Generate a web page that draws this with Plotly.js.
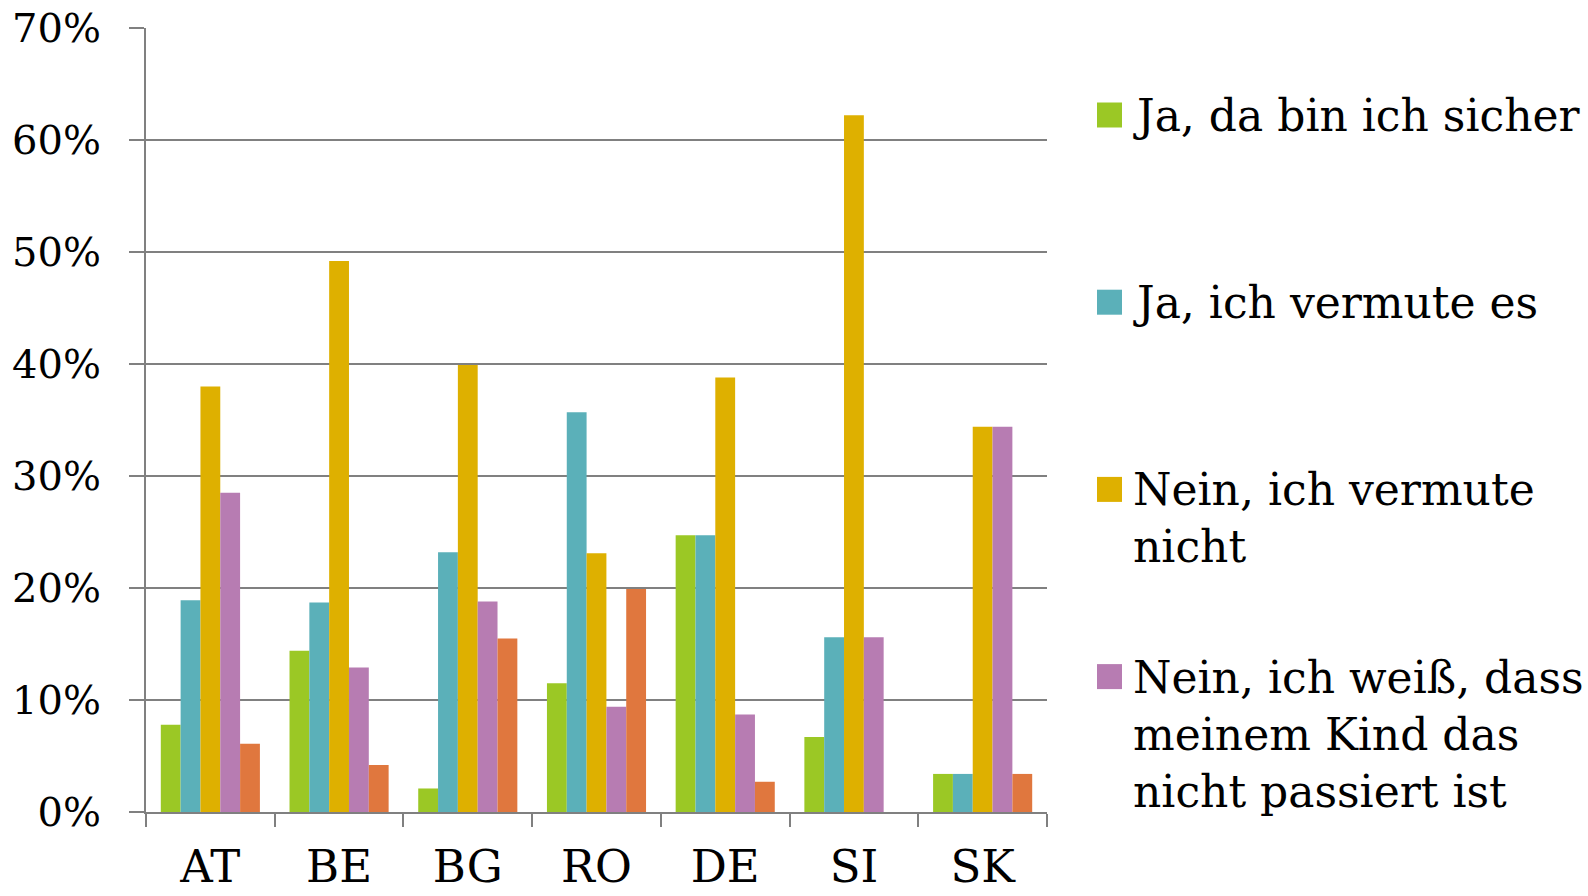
<!DOCTYPE html>
<html><head><meta charset="utf-8">
<script src="https://cdn.plot.ly/plotly-3.0.1.min.js"></script>
<style>html,body{margin:0;padding:0;background:#fff;}#chart{width:1588px;height:896px;}</style>
</head><body><div id="chart"></div>
<script>
// ---- data ----
const countries = ['AT', 'BE', 'BG', 'RO', 'DE', 'SI', 'SK'];
const seriesNames = ['Ja, da bin ich sicher', 'Ja, ich vermute es', 'Nein, ich vermute nicht',
  'Nein, ich weiß, dass meinem Kind das nicht passiert ist', 'Keine Angabe'];
const jaSicher    = [7.8, 14.4, 2.1, 11.5, 24.7, 6.7, 3.4];
const jaVermute   = [18.9, 18.7, 23.2, 35.7, 24.7, 15.6, 3.4];
const neinVermute = [38.0, 49.2, 39.9, 23.1, 38.8, 62.2, 34.4];
const neinWeiss   = [28.5, 12.9, 18.8, 9.4, 8.7, 15.6, 34.4];
const keineAngabe = [6.1, 4.2, 15.5, 19.9, 2.7, 0, 3.4];
const yTickVals = [0, 10, 20, 30, 40, 50, 60, 70];
const yTickText = ['0%', '10%', '20%', '30%', '40%', '50%', '60%', '70%'];
const legendLines = [['Ja, da bin ich sicher'], ['Ja, ich vermute es'], ['Nein, ich vermute', 'nicht'],
  ['Nein, ich weiß, dass', 'meinem Kind das', 'nicht passiert ist']];

// ---- styles ----
const colors = ['#9BC825', '#5BB0B9', '#DEB000', '#B77CB2', '#E0773E'];
const gray = '#808080';
const FONT = 'DejaVu Serif, serif';
const allSeries = [jaSicher, jaVermute, neinVermute, neinWeiss, keineAngabe];

const traces = allSeries.map((vals, i) => ({
  type: 'bar', x: countries, y: vals, name: seriesNames[i],
  marker: {color: colors[i], line: {width: 0}},
  showlegend: false
}));

// plot area in pixels
const L = 146, R = 1047, T = 28, B = 812;
const px2x = p => (p - L) / (R - L);
const px2y = p => (B - p) / (B - T);

const shapes = [], annotations = [];
legendLines.forEach((lines, i) => {
  const cy = 115 + i * 187.2;
  shapes.push({type: 'rect', xref: 'paper', yref: 'paper',
    x0: px2x(1097), x1: px2x(1122), y0: px2y(cy + 12.5), y1: px2y(cy - 12.5),
    fillcolor: colors[i], line: {width: 0}});
  annotations.push({xref: 'paper', yref: 'paper', x: px2x(1131), y: px2y(88 + i * 187.2),
    xanchor: 'left', yanchor: 'top', align: 'left', showarrow: false,
    text: lines.join('<br>'), font: {family: FONT, size: 44, color: '#000'}});
});

const layout = {
  width: 1588, height: 896,
  margin: {l: L, r: 1588 - R, t: T, b: 896 - B, pad: 0},
  paper_bgcolor: '#fff', plot_bgcolor: '#fff',
  font: {family: FONT, color: '#000'},
  barmode: 'group', bargap: 0.23, bargroupgap: 0,
  showlegend: false,
  xaxis: {type: 'category', tickson: 'boundaries', ticks: 'outside', ticklen: 13, tickwidth: 2,
    tickcolor: gray, showline: true, linecolor: gray, linewidth: 2, showgrid: false,
    tickfont: {family: FONT, size: 45, color: '#000'}, ticklabelstandoff: 14},
  yaxis: {range: [0, 70], tickmode: 'array', tickvals: yTickVals, ticktext: yTickText,
    ticks: 'outside', ticklen: 15,
    tickwidth: 2, tickcolor: gray, showline: true, linecolor: gray, linewidth: 2,
    showgrid: true, gridcolor: gray, gridwidth: 2, zeroline: false,
    tickfont: {family: FONT, size: 40, color: '#000'}, ticklabelstandoff: 20},
  shapes: shapes, annotations: annotations
};

Plotly.newPlot('chart', traces, layout, {staticPlot: true, displayModeBar: false});
</script></body></html>
